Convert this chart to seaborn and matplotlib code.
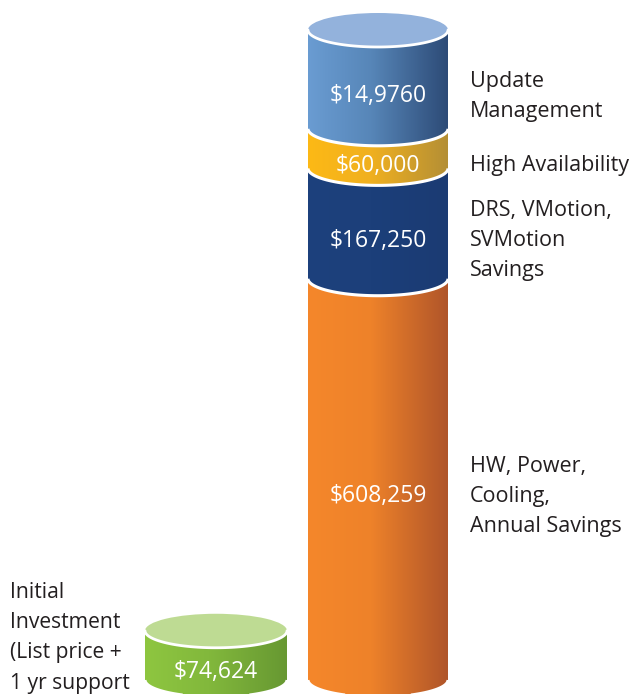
import numpy as np
import pandas as pd
import matplotlib
matplotlib.use("Agg")
import matplotlib.pyplot as plt
import seaborn as sns
from matplotlib.colors import LinearSegmentedColormap
from matplotlib.path import Path
from matplotlib.patches import PathPatch, Ellipse

# ---------------- data ----------------
categories = ["Initial Investment", "Savings"]
initial_value = 74624
initial_text = "$74,624"
initial_label = "Initial\nInvestment\n(List price +\n1 yr support"

seg_names = ["HW, Power,\nCooling,\nAnnual Savings",
             "DRS, VMotion,\nSVMotion\nSavings",
             "High Availability",
             "Update\nManagement"]
seg_values = [608259, 167250, 60000, 149760]
seg_texts = ["$608,259", "$167,250", "$60,000", "$14,9760"]

# ---------------- style ----------------
seg_grad = [["#f5872b", "#ee8229", "#b0552a"],
            ["#1d417d", "#1c3f7a", "#1b3b73"],
            ["#fdb915", "#f0b020", "#b48f35"],
            ["#6a9cd2", "#5786b8", "#2d4b77"]]
top_face = "#93b2dc"
green_grad = ["#8ec640", "#82b83c", "#679832"]
green_top = "#bedb93"
text_color = "#231f20"

sns.set_theme(style="white")
plt.rcParams["font.family"] = ["Open Sans", "DejaVu Sans"]

W, H = 639, 694
fig = plt.figure(figsize=(W / 100, H / 100), dpi=100)
ax = fig.add_axes([0, 0, 1, 1])

tops = np.cumsum(seg_values)
bottoms = tops - np.array(seg_values)
total = tops[-1]

# scale: base at px 680, top at px 30
S = total / 650.0
ylim = (-(H - 680) * S, 680 * S)
bar_w = 140 / 162
xlim = (-216 / 162, (W - 216) / 162)

# draw bars through seaborn (cumulative, largest first), used as base geometry
for i in range(len(seg_values) - 1, -1, -1):
    sub = pd.DataFrame({"cat": categories, "val": [initial_value if i == 0 else 0, tops[i]]})
    sns.barplot(data=sub, x="cat", y="val", order=categories, color=seg_grad[i][1],
                width=bar_w, ax=ax, errorbar=None, zorder=1, saturation=1)

ax.set_xlim(*xlim)
ax.set_ylim(*ylim)
ax.axis("off")

ey = 17 * S  # ellipse half-height in data units


def body_path(xc, w, b, t):
    xl, xr = xc - w / 2, xc + w / 2
    th = np.linspace(np.pi, 2 * np.pi, 80)
    arc = np.column_stack([xc + (w / 2) * np.cos(th), b + ey * np.sin(th)])
    verts = np.vstack([[xl, t], [xl, b], arc, [xr, b], [xr, t], [xl, t]])
    codes = [Path.MOVETO] + [Path.LINETO] * (len(verts) - 2) + [Path.CLOSEPOLY]
    return Path(verts, codes), arc


def cylinder(xc, w, b, t, colors, z, top_color=None):
    path, arc = body_path(xc, w, b, t)
    patch = PathPatch(path, facecolor=colors[1], edgecolor="none", zorder=z)
    ax.add_patch(patch)
    cmap = LinearSegmentedColormap.from_list("g", [(0, colors[0]), (0.45, colors[1]), (1, colors[2])])
    grad = np.linspace(0, 1, 256).reshape(1, -1)
    im = ax.imshow(grad, cmap=cmap, extent=(xc - w / 2, xc + w / 2, b - ey, t),
                   aspect="auto", zorder=z + 0.1, interpolation="bilinear")
    im.set_clip_path(patch)
    ax.plot(arc[:, 0], arc[:, 1], color="white", lw=2.2, zorder=z + 0.2, solid_capstyle="butt")
    if top_color is not None:
        e = Ellipse((xc, t), w, 2 * ey, facecolor=top_color, edgecolor="none", zorder=z + 0.3)
        ax.add_patch(e)
        th = np.linspace(np.pi, 2 * np.pi, 80)
        ax.plot(xc + (w / 2) * np.cos(th), t + ey * np.sin(th), color="white",
                lw=2.0, zorder=z + 0.4)


# hide seaborn's flat bars beneath (geometry taken from them)
for p in ax.patches:
    p.set_alpha(0)

# tall stacked cylinder
xc_tall = 1
for i in range(len(seg_values)):
    cylinder(xc_tall, bar_w, bottoms[i], tops[i], seg_grad[i], 2 + i,
             top_face if i == len(seg_values) - 1 else None)
    ymid = (bottoms[i] + tops[i]) / 2 - ey
    ax.text(xc_tall, ymid, seg_texts[i], color="white", ha="center", va="center",
            fontsize=16.5, zorder=20)
    ax.text(xc_tall + 92 / 162, ymid, seg_names[i], color=text_color, ha="left",
            va="center", fontsize=15.5, linespacing=1.58, zorder=20)

# initial investment cylinder
gw = 142 / 162
cylinder(0, gw, 0, initial_value, green_grad, 2, green_top)
ax.text(0, initial_value / 2 - ey, initial_text, color="white", ha="center",
        va="center", fontsize=16.5, zorder=20)
ax.text(-206 / 162, initial_value - 7 * S, initial_label, color=text_color, ha="left",
        va="center", fontsize=15.2, linespacing=1.58, zorder=20)

ax.set_xlim(*xlim)
ax.set_ylim(*ylim)
fig.savefig("out.png", dpi=100, facecolor="white")
